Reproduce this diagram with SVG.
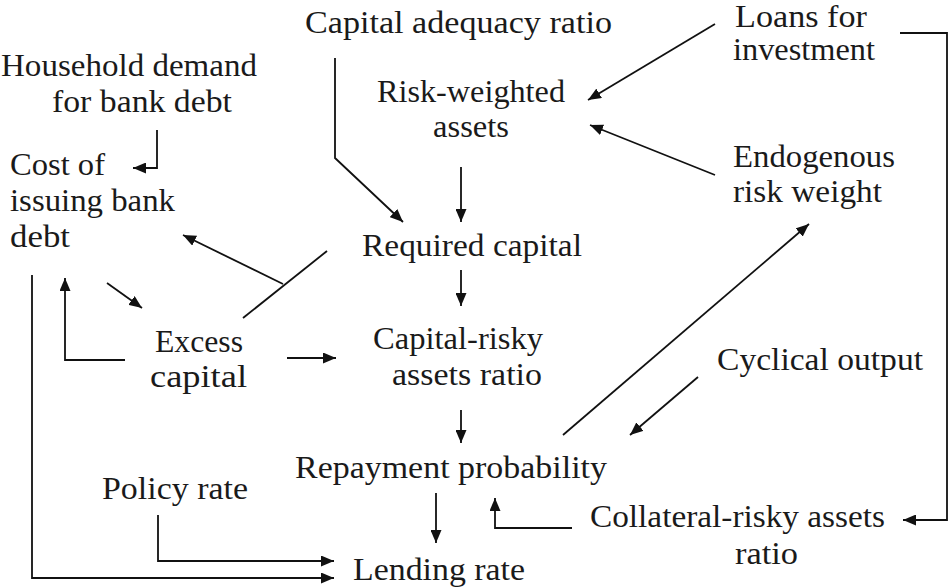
<svg xmlns="http://www.w3.org/2000/svg" width="952" height="588" viewBox="0 0 952 588">
<style>
text{font-family:"Liberation Serif","Times New Roman",serif;font-size:31px;fill:#1a1a1a}
.c{fill:none;stroke:#111;stroke-width:1.8}
</style>
<defs>
<marker id="ah" markerUnits="userSpaceOnUse" markerWidth="13" markerHeight="11" refX="13" refY="5.5" orient="auto">
<path d="M0,0 L13,5.5 L0,11 z" fill="#111"/>
</marker>
</defs>
<rect width="952" height="588" fill="#fff"/>
<g id="nodes">
<g id="car"><text x="305" y="33" textLength="307" lengthAdjust="spacingAndGlyphs">Capital adequacy ratio</text></g>
<g id="loans"><text x="735" y="27" textLength="132" lengthAdjust="spacingAndGlyphs">Loans for</text><text x="733" y="60" textLength="142" lengthAdjust="spacingAndGlyphs">investment</text></g>
<g id="household"><text x="1" y="76" textLength="256" lengthAdjust="spacingAndGlyphs">Household demand</text><text x="52" y="112" textLength="180" lengthAdjust="spacingAndGlyphs">for bank debt</text></g>
<g id="rwa"><text x="377" y="102" textLength="188" lengthAdjust="spacingAndGlyphs">Risk-weighted</text><text x="433" y="137" textLength="76" lengthAdjust="spacingAndGlyphs">assets</text></g>
<g id="cost"><text x="10" y="175" textLength="95" lengthAdjust="spacingAndGlyphs">Cost of</text><text x="10" y="211" textLength="165" lengthAdjust="spacingAndGlyphs">issuing bank</text><text x="10" y="247" textLength="60" lengthAdjust="spacingAndGlyphs">debt</text></g>
<g id="endog"><text x="733" y="167" textLength="162" lengthAdjust="spacingAndGlyphs">Endogenous</text><text x="733" y="202" textLength="149" lengthAdjust="spacingAndGlyphs">risk weight</text></g>
<g id="reqcap"><text x="362" y="256" textLength="220" lengthAdjust="spacingAndGlyphs">Required capital</text></g>
<g id="excess"><text x="155" y="352" textLength="88" lengthAdjust="spacingAndGlyphs">Excess</text><text x="150" y="387" textLength="97" lengthAdjust="spacingAndGlyphs">capital</text></g>
<g id="cra"><text x="373" y="349" textLength="170" lengthAdjust="spacingAndGlyphs">Capital-risky</text><text x="392" y="385" textLength="150" lengthAdjust="spacingAndGlyphs">assets ratio</text></g>
<g id="cyc"><text x="717" y="370" textLength="206" lengthAdjust="spacingAndGlyphs">Cyclical output</text></g>
<g id="repay"><text x="295" y="478" textLength="312" lengthAdjust="spacingAndGlyphs">Repayment probability</text></g>
<g id="policy"><text x="102" y="499" textLength="146" lengthAdjust="spacingAndGlyphs">Policy rate</text></g>
<g id="coll"><text x="590" y="527" textLength="295" lengthAdjust="spacingAndGlyphs">Collateral-risky assets</text><text x="735" y="564" textLength="63" lengthAdjust="spacingAndGlyphs">ratio</text></g>
<g id="lending"><text x="353" y="580" textLength="172" lengthAdjust="spacingAndGlyphs">Lending rate</text></g>
</g>
<g id="connectors">
<path class="c" marker-end="url(#ah)" d="M157,130 V168 H133"/>
<path class="c" marker-end="url(#ah)" d="M335,58 V158 L403,222"/>
<path class="c" marker-end="url(#ah)" d="M461,167 V222"/>
<path class="c" marker-end="url(#ah)" d="M715,24 L588,100"/>
<path class="c" marker-end="url(#ah)" d="M715,175 L590,125"/>
<path class="c" marker-end="url(#ah)" d="M563,435 L809,224"/>
<path class="c" marker-end="url(#ah)" d="M698,377 L630,435"/>
<path class="c" marker-end="url(#ah)" d="M572,528 H495 V498"/>
<path class="c" marker-end="url(#ah)" d="M900,33 H947 V520 H903"/>
<path class="c" marker-end="url(#ah)" d="M461,270 V306"/>
<path class="c" marker-end="url(#ah)" d="M461,410 V443"/>
<path class="c" marker-end="url(#ah)" d="M436,493 V543"/>
<path class="c" marker-end="url(#ah)" d="M158,515 V561 H334"/>
<path class="c" marker-end="url(#ah)" d="M32,275 V578 H334"/>
<path class="c" marker-end="url(#ah)" d="M287,358 H336"/>
<path class="c" marker-end="url(#ah)" d="M125,360 H65 V278"/>
<path class="c" marker-end="url(#ah)" d="M107,283 L142,308"/>
<path class="c" d="M243,318 L327,251"/>
<path class="c" marker-end="url(#ah)" d="M283,284 L183,235"/>
</g>
</svg>
